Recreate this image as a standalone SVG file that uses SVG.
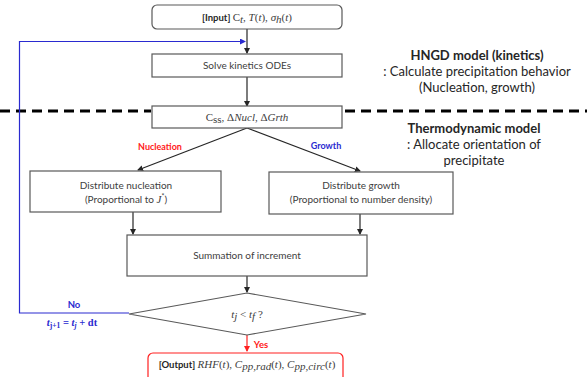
<svg xmlns="http://www.w3.org/2000/svg" width="587" height="377" viewBox="0 0 587 377">
<style>
.box{fill:#fff;stroke:#595959;stroke-width:1.2}
.t{font-family:Lato,"Liberation Sans",sans-serif;font-size:10px;fill:#404040;text-anchor:middle}
.m{font-family:"Liberation Serif",serif;font-style:italic;font-size:11px;fill:#404040}
.mu{font-family:"Liberation Serif",serif;font-size:11px;fill:#404040}
.b{font-family:Lato,"Liberation Sans",sans-serif;font-weight:bold;font-size:9.5px;fill:#262626}
.h{font-family:Lato,"Liberation Sans",sans-serif;font-size:13px;fill:#262626;text-anchor:middle}
.hb{font-weight:bold}
.ln{fill:none;stroke:#262626;stroke-width:1.2}
.dash{fill:none;stroke:#000;stroke-width:3;stroke-dasharray:10 6}
</style>
<defs>
<marker id="ak" markerWidth="6" markerHeight="6" refX="5" refY="3" orient="auto" markerUnits="userSpaceOnUse"><path d="M0,0 L6,3 L0,6 z" fill="#262626"/></marker>
<marker id="ab" markerWidth="6" markerHeight="6" refX="5" refY="3" orient="auto" markerUnits="userSpaceOnUse"><path d="M0,0 L6,3 L0,6 z" fill="#2a2ad0"/></marker>
<marker id="ar" markerWidth="6" markerHeight="6" refX="5" refY="3" orient="auto" markerUnits="userSpaceOnUse"><path d="M0,0 L6,3 L0,6 z" fill="#ff2020"/></marker>
</defs>

<g id="dividers">
<line class="dash" x1="0" y1="111" x2="151" y2="111"/>
<line class="dash" x1="345" y1="111" x2="587" y2="111"/>
</g>

<g id="connectors">
<line class="ln" x1="247" y1="29" x2="247" y2="53" marker-end="url(#ak)"/>
<line class="ln" x1="247" y1="77" x2="247" y2="106" marker-end="url(#ak)"/>
<line class="ln" x1="247" y1="128" x2="138" y2="170" marker-end="url(#ak)"/>
<line class="ln" x1="247" y1="128" x2="360" y2="171" marker-end="url(#ak)"/>
<line class="ln" x1="133" y1="212" x2="133" y2="234" marker-end="url(#ak)"/>
<line class="ln" x1="360" y1="214" x2="360" y2="234" marker-end="url(#ak)"/>
<line class="ln" x1="247" y1="276" x2="247" y2="292" marker-end="url(#ak)"/>
<line x1="247" y1="335" x2="247" y2="351" stroke="#ff2020" stroke-width="1.2" marker-end="url(#ar)"/>
<polyline points="129,313 19.5,313 19.5,41.5 245,41.5" fill="none" stroke="#2a2ad0" stroke-width="1.2" marker-end="url(#ab)"/>
<text x="160" y="150" font-family="Lato,'Liberation Sans',sans-serif" font-weight="bold" font-size="9" fill="#ff2020" text-anchor="middle">Nucleation</text>
<text x="326" y="149" font-family="Lato,'Liberation Sans',sans-serif" font-weight="bold" font-size="9" fill="#2a2ad0" text-anchor="middle">Growth</text>
<text x="74" y="308" font-family="Lato,'Liberation Sans',sans-serif" font-weight="bold" font-size="9.5" fill="#2a2ad0" text-anchor="middle">No</text>
<text x="72" y="326" font-family="'Liberation Serif',serif" font-weight="bold" font-size="10.5" fill="#2a2ad0" text-anchor="middle"><tspan font-style="italic">t</tspan><tspan font-size="7.5" dy="2">j+1</tspan><tspan dy="-2"> = </tspan><tspan font-style="italic">t</tspan><tspan font-size="7.5" font-style="italic" dy="2">j</tspan><tspan dy="-2"> + dt</tspan></text>
<text x="261" y="348" font-family="Lato,'Liberation Sans',sans-serif" font-weight="bold" font-size="9.5" fill="#ff2020" text-anchor="middle">Yes</text>
</g>

<g id="input">
<rect class="box" x="152" y="5" width="190" height="24" rx="5"/>
<text x="247" y="21" text-anchor="middle"><tspan class="b">[Input] </tspan><tspan class="mu">C</tspan><tspan class="m" font-size="7.5" dy="2">t</tspan><tspan class="mu" dy="-2">,  </tspan><tspan class="m">T</tspan><tspan class="mu">(</tspan><tspan class="m">t</tspan><tspan class="mu">),  </tspan><tspan class="m">σ</tspan><tspan class="m" font-size="7.5" dy="2">h</tspan><tspan class="mu" dy="-2">(</tspan><tspan class="m">t</tspan><tspan class="mu">)</tspan></text>
</g>

<g id="solve">
<rect class="box" x="152" y="54" width="190" height="23"/>
<text class="t" x="247" y="69">Solve kinetics ODEs</text>
</g>

<g id="css">
<rect class="box" x="152" y="106" width="190" height="22"/>
<text x="247" y="121" text-anchor="middle"><tspan class="mu">C</tspan><tspan class="mu" font-size="7.5" dy="2">ss</tspan><tspan class="mu" dy="-2">, Δ</tspan><tspan class="m">Nucl</tspan><tspan class="mu">, Δ</tspan><tspan class="m">Grth</tspan></text>
</g>

<g id="nucleation">
<rect class="box" x="30" y="171" width="191" height="41"/>
<text class="t" x="126" y="189">Distribute nucleation</text>
<text class="t" x="126" y="203">(Proportional to <tspan class="m" font-size="10.5">J</tspan><tspan font-size="7" dy="-4">*</tspan><tspan dy="4">)</tspan></text>
</g>

<g id="growth">
<rect class="box" x="269" y="172" width="184" height="42"/>
<text class="t" x="361" y="189">Distribute growth</text>
<text class="t" x="361" y="203">(Proportional to number density)</text>
</g>

<g id="summation">
<rect class="box" x="127" y="235" width="240" height="41"/>
<text class="t" x="247" y="259">Summation of increment</text>
</g>

<g id="decision">
<polygon class="box" points="247,293 366,314 247,335 129,314"/>
<text x="247" y="318" text-anchor="middle"><tspan class="m">t</tspan><tspan class="m" font-size="7.5" dy="2">j</tspan><tspan class="mu" dy="-2"> &lt; </tspan><tspan class="m">t</tspan><tspan class="m" font-size="7.5" dy="2">f</tspan><tspan class="mu" dy="-2"> ?</tspan></text>
</g>

<g id="output">
<rect x="148" y="353" width="195" height="30" rx="5" fill="#fff" stroke="#ff2020" stroke-width="1.2"/>
<text x="247" y="368" text-anchor="middle"><tspan class="b">[Output]  </tspan><tspan class="m">RHF</tspan><tspan class="mu">(</tspan><tspan class="m">t</tspan><tspan class="mu">), </tspan><tspan class="m">C</tspan><tspan class="m" font-size="7.5" dy="2">pp,rad</tspan><tspan class="mu" dy="-2">(</tspan><tspan class="m">t</tspan><tspan class="mu">), </tspan><tspan class="m">C</tspan><tspan class="m" font-size="7.5" dy="2">pp,circ</tspan><tspan class="mu" dy="-2">(</tspan><tspan class="m">t</tspan><tspan class="mu">)</tspan></text>
</g>

<g id="labels">
<text class="h hb" x="477" y="60">HNGD model (kinetics)</text>
<text class="h" x="477" y="76">: Calculate precipitation behavior</text>
<text class="h" x="477" y="92">(Nucleation, growth)</text>
<text class="h hb" x="474" y="133">Thermodynamic model</text>
<text class="h" x="474" y="149">: Allocate orientation of</text>
<text class="h" x="474" y="165">precipitate</text>
</g>
</svg>
